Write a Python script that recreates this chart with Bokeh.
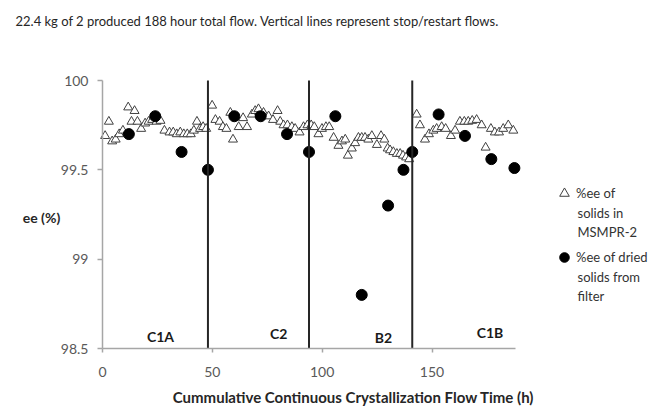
from bokeh.plotting import figure
from bokeh.models import Range1d, FixedTicker, Label, Legend, LegendItem, NumeralTickFormatter
from bokeh.core.properties import value
from bokeh.embed import file_html
from bokeh.resources import INLINE

FONT = "Lato"

# ---- data ----
tri_x = [1.2, 2.9, 4.4, 6.0, 7.6, 9.3, 11.7, 13.2, 14.6, 15.9, 17.6, 19.4, 21.0, 22.6, 24.6,
         26.4, 28.2, 30.5, 32.2, 33.8, 35.4, 37.0, 38.6, 40.2, 41.6, 43.0, 44.4, 45.8, 47.2,
         49.9, 51.4, 53.3, 54.8, 56.4, 58.2, 59.4, 62.0, 64.0, 65.8, 68.0, 69.5, 71.0, 73.3,
         75.6, 77.6, 79.7, 80.9, 82.4, 84.2, 86.2, 87.7, 89.7, 91.5, 93.3,
         95.0, 96.4, 98.3, 99.9, 101.7, 103.2, 105.2, 107.4, 109.0, 110.5, 111.7, 113.5, 115.0,
         116.5, 118.0, 119.5, 121.0, 122.6, 124.9, 126.8, 128.3, 129.8, 130.9, 132.4, 134.0,
         135.5, 136.8, 138.2, 139.6,
         143.0, 144.5, 146.8, 148.6, 150.6, 152.1, 154.4, 156.2, 158.6, 160.5, 162.7, 164.7,
         166.5, 168.3, 170.3, 172.6, 174.4, 176.8, 178.6, 180.5, 182.4, 184.7, 187.0]
tri_y = [99.69, 99.77, 99.66, 99.67, 99.70, 99.72, 99.85, 99.77, 99.83, 99.77, 99.73, 99.76, 99.77, 99.78, 99.77,
         99.775, 99.72, 99.71, 99.71, 99.70, 99.71, 99.70, 99.70, 99.70, 99.72, 99.77, 99.73, 99.74, 99.73,
         99.86, 99.78, 99.77, 99.74, 99.73, 99.82, 99.67, 99.74, 99.79, 99.74, 99.81, 99.83, 99.84, 99.82,
         99.80, 99.78, 99.83, 99.77, 99.75, 99.75, 99.74, 99.73, 99.71, 99.74, 99.75,
         99.75, 99.74, 99.70, 99.73, 99.74, 99.74, 99.68, 99.635, 99.66, 99.67, 99.58, 99.62, 99.65,
         99.68, 99.68, 99.68, 99.67, 99.69, 99.64, 99.69, 99.67, 99.62, 99.61, 99.60, 99.59,
         99.59, 99.58, 99.57, 99.56,
         99.81, 99.75, 99.67, 99.70, 99.72, 99.73, 99.74, 99.73, 99.69, 99.72, 99.77, 99.77,
         99.77, 99.775, 99.78, 99.75, 99.625, 99.73, 99.71, 99.71, 99.73, 99.75, 99.72]

dot_x = [12, 24, 36, 48, 60, 72, 84, 94, 106, 118, 130, 137, 141, 153, 165, 177, 187.5]
dot_y = [99.70, 99.80, 99.60, 99.50, 99.80, 99.80, 99.70, 99.60, 99.80, 98.80, 99.30, 99.50,
         99.60, 99.81, 99.69, 99.56, 99.51]

stop_times = [48, 94, 141]

region_names = ["C1A", "C2", "B2", "C1B"]
region_x = [26.4, 80.2, 127.9, 176.4]
region_y = [98.567, 98.585, 98.56, 98.59]

x_ticks = [0, 50, 100, 150]
x_max = 188
y_ticks = [98.5, 99, 99.5, 100]

title_text = "22.4 kg of 2 produced 188 hour total flow.  Vertical lines represent  stop/restart flows."
x_title = "Cummulative Continuous Crystallization Flow Time (h)"
y_title = "ee (%)"
legend_first = ["%ee of", "%ee of dried"]
legend_rest = [["solids in", "MSMPR-2"], ["solids from", "filter"]]

# ---- figure: the frame covers the whole canvas; axes are pinned at x=0 / y=98.5 ----
W, H = 652, 409
PX_L, PX_R, PX_T, PX_B = 102, 515, 80, 348          # axis box in pixels
sx = (PX_R - PX_L) / (x_max - x_ticks[0])
sy = (PX_B - PX_T) / (y_ticks[-1] - y_ticks[0])
xr = Range1d(x_ticks[0] - PX_L / sx, x_ticks[0] + (W - PX_L) / sx)
yr = Range1d(y_ticks[0] - (H - PX_B) / sy, y_ticks[-1] + PX_T / sy)


def px_x(px):
    return x_ticks[0] + (px - PX_L) / sx


def px_y(py):
    return y_ticks[-1] - (py - PX_T) / sy


p = figure(width=W, height=H, output_backend="svg", toolbar_location=None,
           x_range=xr, y_range=yr, min_border=0,
           min_border_left=0, min_border_right=0, min_border_top=0, min_border_bottom=0)
p.outline_line_color = None
p.grid.visible = False
p.background_fill_color = "white"
p.border_fill_color = "white"

for ax in (p.xaxis[0], p.yaxis[0]):
    ax.axis_line_color = "#a6a6a6"
    ax.axis_line_width = 1.5
    ax.major_tick_line_color = "#a6a6a6"
    ax.major_tick_line_width = 1.5
    ax.major_tick_in = 0
    ax.minor_tick_line_color = None
    ax.major_label_text_font = FONT
    ax.major_label_text_font_size = "14px"
    ax.major_label_text_color = "#595959"

p.xaxis.fixed_location = y_ticks[0]
p.yaxis.fixed_location = x_ticks[0]
p.xaxis.bounds = (x_ticks[0], x_max)
p.yaxis.bounds = (y_ticks[0], y_ticks[-1])
p.xaxis.ticker = FixedTicker(ticks=x_ticks)
p.xaxis.major_tick_out = 4
p.xaxis.major_label_standoff = 14
p.yaxis.ticker = FixedTicker(ticks=y_ticks)
p.yaxis.formatter = NumeralTickFormatter(format="0.[0]")
p.yaxis.major_tick_out = 5
p.yaxis.major_label_standoff = 9

tri = p.scatter(tri_x, tri_y, marker="triangle", size=9, fill_color="white",
                line_color="#404040", line_width=1)
dots = p.scatter(dot_x, dot_y, marker="circle", size=11, fill_color="black", line_color="black")

p.segment(x0=stop_times, y0=[y_ticks[0]] * len(stop_times),
          x1=stop_times, y1=[y_ticks[-1]] * len(stop_times),
          line_color="#262626", line_width=2)

p.text(x=region_x, y=region_y, text=region_names, text_font=value(FONT),
       text_font_style="bold", text_font_size=value("14px"), text_align="center",
       text_baseline="middle", text_color="#1a1a1a")

p.add_layout(Label(x=px_x(15), y=px_y(20), text=title_text, text_font=FONT, text_font_size="13px",
                   text_align="left", text_baseline="middle", text_color="#262626"))
p.add_layout(Label(x=px_x(41), y=px_y(217), text=y_title, text_font=FONT, text_font_size="14px",
                   text_font_style="bold", text_align="center", text_baseline="middle",
                   text_color="#262626"))
p.add_layout(Label(x=px_x(353), y=px_y(396), text=x_title, text_font=FONT, text_font_size="15px",
                   text_font_style="bold", text_align="center", text_baseline="middle",
                   text_color="#262626"))

# legend: first line of each entry with its marker, continuation lines as labels
legend = Legend(items=[LegendItem(label=legend_first[0], renderers=[tri]),
                       LegendItem(label=legend_first[1], renderers=[dots])],
                location=(552, H - 269), orientation="vertical", padding=0, margin=0, spacing=40,
                glyph_width=24, glyph_height=24, label_standoff=0,
                border_line_color=None, background_fill_alpha=0,
                label_text_font=FONT, label_text_font_size="13px",
                label_text_color="#333333")
p.add_layout(legend)

for first_py, lines in zip([193, 257], legend_rest):
    for k, line in enumerate(lines):
        p.add_layout(Label(x=px_x(577), y=px_y(first_py + 19.3 * (k + 1)), text=line,
                           text_font=FONT, text_font_size="13px", text_align="left",
                           text_baseline="middle", text_color="#333333"))

open("out.html", "w").write(file_html(p, INLINE))
